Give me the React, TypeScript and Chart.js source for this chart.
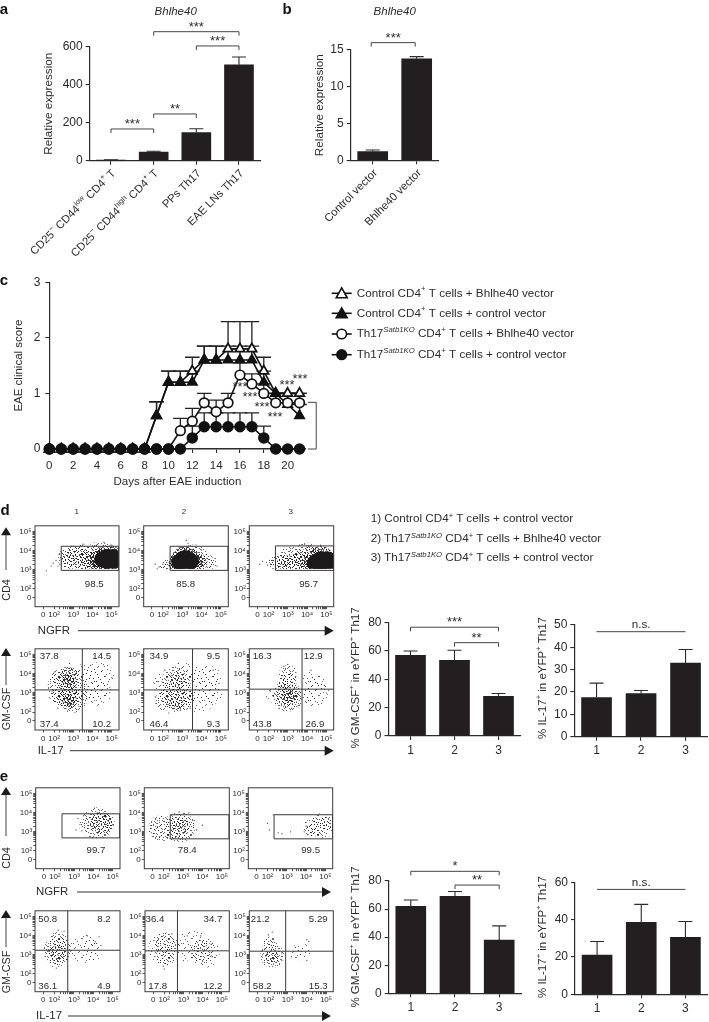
import React, { useEffect, useRef } from 'react';
import { Chart, registerables } from 'chart.js';

Chart.register(...registerables);

const FONT = '"Liberation Sans", Arial, sans-serif';
const INK = '#2d2b2b';
const BAR = '#231f20';

// ---------- bar panels ----------
const aCategories = ['CD25^−^ CD44^low^ CD4^+^ T', 'CD25^−^ CD44^high^ CD4^+^ T', 'PPs Th17', 'EAE LNs Th17'];
const aValues = [3, 45, 148, 505];
const aErrors = [5, 50, 168, 546];
const bCategories = ['Control vector', 'Bhlhe40 vector'];
const bValues = [1.2, 13.8];
const bErrors = [1.4, 14.1];
const groupLabels = ['1', '2', '3'];
const dGmValues = [57, 53.5, 28];
const dGmErrors = [60, 60.5, 30];
const dIlValues = [17.5, 19.3, 33];
const dIlErrors = [24, 20.7, 39];
const eGmValues = [62, 69, 38];
const eGmErrors = [66.5, 72.5, 48];
const eIlValues = [21, 38.5, 30.5];
const eIlErrors = [28.3, 48.2, 39];

// ---------- clinical score ----------
const days = [0, 1, 2, 3, 4, 5, 6, 7, 8, 9, 10, 11, 12, 13, 14, 15, 16, 17, 18, 19, 20, 21];
const openTriangle = [0, 0, 0, 0, 0, 0, 0, 0, 0, 0.6, 1.2, 1.2, 1.4, 1.6, 1.6, 1.8, 1.8, 1.8, 1.4, 1, 1, 1];
const closedTriangle = [0, 0, 0, 0, 0, 0, 0, 0, 0, 0.6, 1.2, 1.2, 1.2, 1.6, 1.6, 1.6, 1.6, 1.6, 1.2, 1, 0.8, 0.6];
const openCircle = [0, 0, 0, 0, 0, 0, 0, 0, 0, 0, 0, 0.33, 0.5, 0.83, 0.67, 0.83, 1.33, 1.17, 1, 0.83, 0.83, 0.83];
const closedCircle = [0, 0, 0, 0, 0, 0, 0, 0, 0, 0, 0, 0, 0.2, 0.4, 0.4, 0.4, 0.4, 0.4, 0.2, 0, 0, 0];
const N = null;
const openTriangleTop = [N, N, N, N, N, N, N, N, N, 0.85, 1.4, 1.4, 1.65, 1.85, 1.85, 2.29, 2.29, 2.29, 1.65, 1, 1, 1];
const closedTriangleTop = [N, N, N, N, N, N, N, N, N, 0.85, 1.4, 1.4, 1.4, 1.85, 1.85, 1.85, 1.85, 1.85, 1.4, 1, 1, 0.8];
const openCircleTop = [N, N, N, N, N, N, N, N, N, N, N, 0.55, 0.73, 1, 0.88, 1, 1.55, 1.35, 1.17, 1, 1, 1];
const closedCircleTop = [N, N, N, N, N, N, N, N, N, N, N, N, 0.41, 0.65, 0.65, 0.65, 0.65, 0.65, 0.41, N, N, N];
const seriesNames = [
  'Control CD4^+^ T cells + Bhlhe40 vector',
  'Control CD4^+^ T cells + control vector',
  'Th17^/Satb1KO^ CD4^+^ T cells + Bhlhe40 vector',
  'Th17^/Satb1KO^ CD4^+^ T cells + control vector',
];

// ---------- flow plots: clusters are [x decade, y decade, radius, density level], strays are [x, y] ----------
const flowTickValues = [1.43, 2, 3, 4, 5];
const flowXLabels = ['0', '10²', '10³', '10⁴', '10⁵'];
const flowYTickValues = [1.53, 2, 3, 4, 5];
const minorSteps = [0.3, 0.48, 0.6, 0.7, 0.78, 0.85, 0.9, 0.95];

const d1Clusters = [[3, 3.6, 13, 1], [2.7, 3.6, 10, 1], [3.5, 3.6, 14, 1], [4.4, 3.6, 17, 1], [2.83, 3.76, 6, 2], [3.9, 3.5, 10, 2], [3.5, 3.55, 10, 2], [4.3, 3.5, 11, 3], [4.5, 3.55, 12, 3], [4.9, 3.6, 13, 3], [4.5, 3.55, 8, 4], [4.75, 3.57, 10, 4], [5.05, 3.57, 10, 4]];
const d1Strays = [[2.3, 3.3], [2.1, 3.5], [1.85, 3.2], [1.6, 2.95], [3.5, 4.35], [4.2, 4.3], [4.6, 4.45], [5, 4.3], [2.4, 3.55], [2.2, 3.2], [1.95, 3.35], [4.4, 4.2]];
const d2Clusters = [[4.15, 3.35, 10, 1], [2.3, 3.2, 8, 1], [3.6, 3.6, 14, 1], [2.05, 3.15, 4, 1], [4.5, 3.3, 6, 0], [3.9, 3.4, 8, 2], [2.6, 3.25, 6, 2], [3.1, 3.8, 7, 2], [3.15, 3.45, 15, 3], [2.7, 3.3, 8, 3], [3.65, 3.45, 9, 3], [2.85, 3.4, 8, 4], [3.15, 3.45, 11, 4], [3.45, 3.45, 8, 4]];
const d2Strays = [[1.6, 3.3], [1.8, 3.15], [2, 3.3], [3.3, 4.4], [3.2, 4.55], [4.7, 3.6], [4, 4.05], [1.7, 3.05], [4.8, 3.2], [3.7, 4.2]];
const d3Clusters = [[2.6, 3.3, 10, 1], [3.2, 3.6, 13, 1], [4, 3.8, 12, 1], [2.35, 3.4, 6, 1], [3.7, 3.35, 11, 2], [3.3, 3.3, 10, 2], [2.9, 3.3, 9, 2], [4.2, 3.6, 12, 2], [4.1, 3.3, 9, 3], [4.7, 3.5, 14, 3], [4.4, 3.35, 8, 4], [4.7, 3.45, 10, 4], [5.05, 3.45, 10, 4]];
const d3Strays = [[1.7, 3.45], [1.9, 3.4], [2.1, 3.3], [2.2, 3.5], [1.55, 3.3], [2.5, 3.7], [3.6, 4.3], [4.7, 4.3], [4.2, 4.25], [1.95, 3.25], [2.05, 3.5]];
const d4Clusters = [[4, 3.6, 14, 0], [4.4, 3.9, 14, 0], [4.2, 2.95, 12, 0], [3.7, 2.9, 8, 0], [4.6, 3, 8, 0], [3.6, 4.1, 9, 0], [2.7, 3.3, 20, 1], [2.3, 2.9, 10, 1], [2.3, 3.8, 8, 1], [3, 2.7, 14, 1], [2.75, 3.85, 10, 2], [2.75, 3.3, 9, 2], [2.75, 2.75, 11, 2], [2.75, 3.75, 6, 3], [2.8, 2.65, 6, 3]];
const d4Strays = [[1.75, 2.75], [1.9, 3.1], [2.2, 2.2], [2.7, 2.05], [3.3, 2.3], [3.9, 4.45], [2.8, 4.55], [4.9, 3.3], [5, 3.8], [2, 4.1]];
const d5Clusters = [[4, 3.5, 17, 0], [4.4, 3.8, 12, 0], [3.9, 2.8, 16, 0], [4.6, 2.9, 9, 0], [2, 3.6, 10, 0], [3.3, 4, 12, 0], [2.7, 3.6, 15, 1], [2.7, 2.9, 16, 1], [3, 2.7, 12, 1], [2.1, 2.6, 10, 1], [2.75, 3.75, 8, 2], [2.7, 2.7, 11, 2]];
const d5Strays = [[1.7, 3.6], [1.6, 2.8], [2.1, 4.2], [2.6, 2.05], [2.9, 2.1], [2.3, 1.95], [4.6, 4.2], [4.9, 3.5], [3.4, 2.2], [2.8, 4.55]];
const d6Clusters = [[4.2, 3.6, 10, 0], [4.5, 2.9, 13, 0], [4, 2.9, 9, 0], [4.6, 3.5, 9, 0], [2.4, 2.9, 9, 0], [2.9, 3.3, 9, 1], [3, 4, 9, 1], [3, 3.6, 9, 1], [3, 2.8, 15, 1], [3, 2.9, 11, 2], [3.05, 2.85, 6, 3]];
const d6Strays = [[1.9, 2.8], [2.1, 3.1], [3, 4.5], [2.8, 4.4], [3.2, 2.2], [2.9, 2.25], [3.6, 2.35], [5, 3], [4.9, 3.4], [4.2, 4.2]];
const e1Clusters = [[3.7, 3.4, 9, 0], [4.2, 3.45, 16, 1], [4.7, 3.5, 8, 1], [4.4, 3.45, 11, 2]];
const e1Strays = [[3.2, 3.7], [3.1, 3.1], [3.4, 3.05], [3.3, 3.4], [3.5, 3.85], [4.9, 3.7], [5, 3.4], [4.2, 4], [4.6, 3.95]];
const e2Clusters = [[2.4, 3.2, 12, 0], [3.3, 3.4, 8, 0], [1.55, 3.1, 6, 0], [2.85, 3.25, 15, 1], [1.9, 3.2, 13, 1], [2.85, 3.25, 9, 2]];
const e2Strays = [[3.7, 3.1], [3.5, 3.6], [3.3, 4], [2.8, 4.05], [1.8, 2.75], [2.2, 2.7], [2.6, 2.7], [4, 3.35]];
const e3Clusters = [[4.3, 3.2, 9, 0], [4.8, 3.3, 13, 0], [4.65, 3.25, 10, 1], [5, 3.45, 7, 1], [4.3, 3.1, 7, 1]];
const e3Strays = [[2, 3.45], [2.1, 3.1], [2.75, 2.9], [3.2, 3], [2.55, 2.95], [3.9, 3], [2.3, 3.9], [4, 3.5], [4, 3.3], [4.1, 2.85]];
const e4Clusters = [[3.5, 3.3, 15, 0], [3.9, 3.5, 8, 0], [2.2, 2.7, 9, 0], [4.1, 3, 6, 0], [2.15, 3.2, 14, 1], [2.2, 3.8, 9, 1], [2.15, 3.1, 9, 2]];
const e4Strays = [[1.7, 3.2], [1.8, 2.7], [2.5, 4.25], [2.2, 4.3], [4.3, 3.95], [4.1, 3.7], [3.7, 4], [2.1, 2.3], [4.4, 3.5]];
const e5Clusters = [[3.5, 3.5, 16, 0], [4.1, 3.1, 15, 0], [2.1, 2.7, 6, 0], [2, 3.3, 16, 0], [2.05, 3, 10, 1], [2.05, 3.6, 11, 1], [3.95, 3.2, 11, 1]];
const e5Strays = [[1.7, 3.8], [2.4, 4.1], [3.2, 4], [3.9, 4], [4.5, 3.6], [4.5, 2.9], [3, 2.7], [2, 2.25], [1.95, 2.4]];
const e6Clusters = [[3.5, 3.1, 8, 0], [3.9, 3.2, 7, 0], [2.2, 2.95, 12, 1], [2.1, 3.6, 7, 1], [2.2, 2.9, 7, 2]];
const e6Strays = [[1.7, 3], [1.8, 3.3], [2.7, 3.1], [2.7, 2.7], [2, 4.05], [2.2, 4.2], [3.2, 2.9], [4, 3.8], [4.1, 3.7], [4, 2.7], [3.4, 3.4]];

const dTopPercents = ['98.5', '85.8', '95.7'];
const dLowerPercents = [['37.8', '14.5', '37.4', '10.2'], ['34.9', '9.5', '46.4', '9.3'], ['16.3', '12.9', '43.8', '26.9']];
const eTopPercents = ['99.7', '78.4', '99.5'];
const eLowerPercents = [['50.8', '8.2', '36.1', '4.9'], ['36.4', '34.7', '17.8', '12.2'], ['21.2', '5.29', '58.2', '15.3']];

// ---------- stipple tiles used to fill dense clusters ----------
const stippleA = [[2, 3], [9, 1], [16, 4], [21, 2], [5, 8], [12, 7], [19, 9], [1, 12], [8, 13], [15, 12], [22, 14], [4, 17], [11, 16], [18, 17], [14, 0]];
const stippleB = [[6, 2], [12, 3], [18, 1], [0, 6], [8, 5], [14, 6], [21, 6], [3, 10], [10, 10], [16, 8], [22, 10], [6, 12], [12, 14], [18, 13], [0, 15], [8, 16], [14, 17], [20, 16], [3, 14], [10, 18], [16, 15], [1, 18], [22, 18], [5, 5], [17, 11], [11, 8]];
const tileShifts = [[0, 0], [11, 7], [5, 3], [16, 10], [3, 13], [19, 5], [8, 11], [14, 2]];

function makeFills() {
  const W = 23;
  const H = 19;
  const tile = (sets: number[][][], shiftCount: number) => {
    const c = document.createElement('canvas');
    c.width = W;
    c.height = H;
    const g = c.getContext('2d')!;
    g.fillStyle = 'rgba(35,32,32,0.68)';
    sets.forEach((s) =>
      tileShifts.slice(0, shiftCount).forEach(([dx, dy]) =>
        s.forEach(([x, y]) => g.fillRect((x + dx) % W, (y + dy) % H, 1, 1)),
      ),
    );
    return g.createPattern(c, 'repeat')!;
  };
  return [
    tile([stippleA], 2),
    tile([stippleA, stippleB], 2),
    tile([stippleA, stippleB], 4),
    tile([stippleA, stippleB], 8),
    '#1c1a1a',
  ];
}

// ---------- rich text ----------
function drawRich(ctx: CanvasRenderingContext2D, text: string, x: number, y: number, o: any = {}) {
  const size = o.size ?? 11.7;
  const parts = text.split('^').map((t, i) => {
    const sup = i % 2 === 1;
    const italic = o.italic || t.startsWith('/');
    return {
      t: t.replace(/^\//, ''),
      sup,
      font: `${italic ? 'italic ' : ''}${o.bold ? 'bold ' : ''}${sup ? size * 0.66 : size}px ${FONT}`,
    };
  });
  let total = 0;
  parts.forEach((p) => {
    ctx.font = p.font;
    total += ctx.measureText(p.t).width;
  });
  ctx.save();
  ctx.translate(x, y);
  ctx.rotate(o.angle ?? 0);
  ctx.fillStyle = o.color ?? INK;
  ctx.textBaseline = 'middle';
  ctx.textAlign = 'left';
  let cx = o.align === 'right' ? -total : o.align === 'left' ? 0 : -total / 2;
  parts.forEach((p) => {
    ctx.font = p.font;
    ctx.fillText(p.t, cx, p.sup ? -size * 0.36 : 0);
    cx += ctx.measureText(p.t).width;
  });
  ctx.restore();
}

// ---------- page-rect helper ----------
function frame(box: any, m: any) {
  const left = Math.floor(box.x0 - m.l);
  const top = Math.floor(box.y1 - m.t);
  const width = Math.ceil(box.x1 + m.r) - left;
  const height = Math.ceil(box.y0 + m.b) - top;
  return {
    left,
    top,
    width,
    height,
    ml: box.x0 - left,
    mr: width - (box.x1 - left),
    mt: box.y1 - top,
    mb: height - (box.y0 - top),
  };
}

function place(canvas: HTMLCanvasElement, f: any) {
  canvas.width = f.width;
  canvas.height = f.height;
  canvas.style.cssText = `position:absolute;left:${f.left}px;top:${f.top}px;width:${f.width}px;height:${f.height}px;`;
}

const axisStyle = (len = 4) => ({
  display: true,
  drawOnChartArea: false,
  drawTicks: true,
  tickLength: len,
  color: INK,
  lineWidth: 1.1,
});

// ---------- bar chart ----------
function barChart(canvas: HTMLCanvasElement, s: any) {
  const f = frame(s.box, s.margin);
  place(canvas, f);
  const padLeft = s.padLeft ?? 0;
  const overlay = {
    id: 'overlay',
    afterDatasetsDraw(chart: any) {
      const c = chart.ctx;
      const X = chart.scales.x;
      const Y = chart.scales.y;
      c.save();
      c.strokeStyle = INK;
      c.lineWidth = 1.1;
      s.errors.forEach((top: number, i: number) => {
        const px = X.getPixelForTick(i);
        const a = Y.getPixelForValue(s.values[i]);
        const b = Y.getPixelForValue(top);
        c.beginPath();
        c.moveTo(px, a);
        c.lineTo(px, b);
        c.moveTo(px - 7, b);
        c.lineTo(px + 7, b);
        c.stroke();
      });
      c.strokeStyle = '#444';
      c.lineWidth = 1;
      (s.brackets ?? []).forEach((br: any) => {
        const xa = X.getPixelForTick(br.from) + (br.dx ?? 0);
        const xb = X.getPixelForTick(br.to) + (br.dx ?? 0);
        const py = Y.getPixelForValue(br.v);
        c.beginPath();
        if (br.legs === false) {
          c.moveTo(xa, py);
          c.lineTo(xb, py);
        } else {
          c.moveTo(xa, py + 4);
          c.lineTo(xa, py);
          c.lineTo(xb, py);
          c.lineTo(xb, py + 4);
        }
        c.stroke();
        const stars = br.label.includes('*');
        drawRich(c, br.label, (xa + xb) / 2, py - (stars ? 4.5 : 7), { size: stars ? 13 : 11.7 });
      });
      (s.rotated ?? []).forEach((label: string, i: number) => {
        drawRich(c, label, X.getPixelForTick(i) + 3, Y.bottom + 11, { size: 11.2, align: 'right', angle: -Math.PI / 4 });
      });
      (s.texts ?? []).forEach((t: any) => {
        drawRich(c, t.text, t.x - f.left, t.y - f.top, t);
      });
      c.restore();
    },
  };
  return new Chart(canvas, {
    type: 'bar',
    data: {
      labels: s.labels,
      datasets: [{ data: s.values, backgroundColor: BAR, barThickness: s.barWidth ?? 30 }],
    },
    plugins: [overlay],
    options: {
      responsive: false,
      animation: false,
      events: [],
      layout: { autoPadding: false, padding: { top: f.mt, right: f.mr, left: padLeft, bottom: 0 } },
      plugins: { legend: { display: false }, tooltip: { enabled: false }, title: { display: false } },
      scales: {
        x: {
          type: 'category',
          offset: true,
          border: { color: INK, width: 1.2 },
          grid: { ...axisStyle(), offset: false },
          ticks: { display: !s.rotated, color: INK, font: { family: FONT, size: 12 }, padding: 3, maxRotation: 0 },
          afterFit: (a: any) => { a.height = f.mb; },
        },
        y: {
          type: 'linear',
          min: 0,
          max: s.yMax,
          border: { color: INK, width: 1.2 },
          grid: axisStyle(),
          ticks: { stepSize: s.yStep, color: INK, font: { family: FONT, size: 12 }, padding: 3 },
          title: s.yTitle
            ? { display: true, text: s.yTitle, color: INK, font: { family: FONT, size: 11.7 }, padding: 0 }
            : { display: false },
          afterFit: (a: any) => { a.width = f.ml - padLeft; },
        },
      } as any,
    } as any,
  });
}

// ---------- clinical score chart ----------
const markerStyles = [
  { pointStyle: 'triangle', pointRadius: 5.6, pointBackgroundColor: '#fff', order: 4 },
  { pointStyle: 'triangle', pointRadius: 5.4, pointBackgroundColor: '#111', order: 3 },
  { pointStyle: 'circle', pointRadius: 4.8, pointBackgroundColor: '#fff', order: 2 },
  { pointStyle: 'circle', pointRadius: 4.9, pointBackgroundColor: '#111', order: 1 },
];
const scoreStars = [[240, 385], [250, 395], [262, 405], [275, 415], [287, 383], [300, 377]];

function scoreChart(canvas: HTMLCanvasElement) {
  const f = frame({ x0: 49.3, x1: 305.5, y0: 449, y1: 282 }, { l: 37, r: 375, t: 12, b: 40 });
  place(canvas, f);
  const series = [openTriangle, closedTriangle, openCircle, closedCircle];
  const tops = [openTriangleTop, closedTriangleTop, openCircleTop, closedCircleTop];
  const overlay = {
    id: 'scoreOverlay',
    beforeDatasetsDraw(chart: any) {
      const c = chart.ctx;
      const X = chart.scales.x;
      const Y = chart.scales.y;
      c.save();
      c.strokeStyle = '#222';
      c.lineWidth = 1.3;
      series.forEach((vals, k) => {
        tops[k].forEach((top: any, i: number) => {
          if (top === null) return;
          const px = X.getPixelForValue(days[i]);
          const b = Y.getPixelForValue(top);
          c.beginPath();
          c.moveTo(px, Y.getPixelForValue(vals[i]));
          c.lineTo(px, b);
          c.moveTo(px - 7.3, b);
          c.lineTo(px + 7.3, b);
          c.stroke();
        });
      });
      c.restore();
    },
    afterDatasetsDraw(chart: any) {
      const c = chart.ctx;
      const Y = chart.scales.y;
      const X = chart.scales.x;
      c.save();
      scoreStars.forEach(([x, y]) => drawRich(c, '***', x - f.left, y - f.top + 2, { size: 13 }));
      // bracket linking the two groups at day 21
      const xa = X.getPixelForValue(21.7);
      const xb = X.getPixelForValue(22.4);
      c.strokeStyle = '#444';
      c.lineWidth = 1;
      c.beginPath();
      c.moveTo(xa, Y.getPixelForValue(0.84));
      c.lineTo(xb, Y.getPixelForValue(0.84));
      c.lineTo(xb, Y.getPixelForValue(0));
      c.lineTo(xa, Y.getPixelForValue(0));
      c.stroke();
      // legend
      const rows = [293.3, 313.3, 334, 354.7];
      seriesNames.forEach((name, i) => {
        const y = rows[i] - f.top;
        const x = 341.7 - f.left;
        c.strokeStyle = '#111';
        c.lineWidth = 1.6;
        c.beginPath();
        c.moveTo(x - 10, y);
        c.lineTo(x + 10, y);
        c.stroke();
        c.fillStyle = i % 2 === 0 ? '#fff' : '#111';
        c.beginPath();
        if (i < 2) {
          c.moveTo(x, y - 5.5);
          c.lineTo(x + 5.5, y + 4.5);
          c.lineTo(x - 5.5, y + 4.5);
          c.closePath();
        } else {
          c.arc(x, y, 4.8, 0, Math.PI * 2);
        }
        c.fill();
        c.stroke();
        drawRich(c, name, 356.7 - f.left, y, { size: 11.7, align: 'left' });
      });
      c.restore();
    },
  };
  return new Chart(canvas, {
    type: 'line',
    data: {
      labels: days,
      datasets: series.map((vals, k) => ({
        label: seriesNames[k].replace(/[\^/]/g, ''),
        data: days.map((d, i) => ({ x: d, y: vals[i] })),
        borderColor: '#111',
        borderWidth: 1.6,
        pointBorderColor: '#111',
        pointBorderWidth: 1.7,
        tension: 0,
        clip: false,
        ...markerStyles[k],
      })),
    },
    plugins: [overlay],
    options: {
      responsive: false,
      animation: false,
      events: [],
      layout: { autoPadding: false, padding: { top: f.mt, right: f.mr, left: 0, bottom: 0 } },
      plugins: { legend: { display: false }, tooltip: { enabled: false } },
      scales: {
        x: {
          type: 'linear',
          min: 0,
          max: 21.5,
          border: { color: INK, width: 1.6 },
          grid: axisStyle(),
          ticks: { stepSize: 2, includeBounds: false, color: INK, font: { family: FONT, size: 11.5 }, padding: 6, maxRotation: 0 },
          title: { display: true, text: 'Days after EAE induction', color: INK, font: { family: FONT, size: 11.5 }, padding: 0 },
          afterFit: (a: any) => { a.height = f.mb; },
        },
        y: {
          type: 'linear',
          min: 0,
          max: 3,
          border: { color: INK, width: 1.2 },
          grid: axisStyle(),
          ticks: { stepSize: 1, color: INK, font: { family: FONT, size: 12 }, padding: 5 },
          title: { display: true, text: 'EAE clinical score', color: INK, font: { family: FONT, size: 11.5 }, padding: 0 },
          afterFit: (a: any) => { a.width = f.ml; },
        },
      } as any,
    } as any,
  });
}

// ---------- flow plot ----------
const X_MIN = 1.005;
const X_MAX = 5.38;
const Y_MIN = 1.056;
const Y_MAX = 5.32;

function logTicks(major: number[]) {
  const minors: number[] = [];
  [2, 3, 4].forEach((d) => minorSteps.forEach((m) => minors.push(d + m)));
  return [...major, ...minors];
}

function flowChart(canvas: HTMLCanvasElement, s: any, fills: any[]) {
  const f = frame(s.box, { l: 22, r: 2, t: 2, b: 15 });
  place(canvas, f);
  const overlay = {
    id: 'flowOverlay',
    afterDatasetsDraw(chart: any) {
      const c = chart.ctx;
      const a = chart.chartArea;
      c.save();
      c.strokeStyle = '#3a3a3a';
      c.lineWidth = 1;
      c.strokeRect(a.left, a.top, a.right - a.left, a.bottom - a.top);
      s.labels.forEach((l: any) => drawRich(c, l.text, a.left + l.x, a.top + l.y, { size: 9.7 }));
      c.restore();
    },
  };
  const clip = s.clipBottom ? { left: 0, top: 0, right: 0, bottom: -s.clipBottom } : undefined;
  const clusterSets = [0, 1, 2, 3, 4].map((level) => ({
    type: 'bubble',
    data: s.clusters.filter((b: number[]) => b[3] === level).map((b: number[]) => ({ x: b[0], y: b[1], r: b[2] })),
    backgroundColor: fills[level],
    borderWidth: 0,
    order: 20 - level,
    ...(clip ? { clip } : {}),
  }));
  const lineSets = s.lines.map((pts: number[][]) => ({
    type: 'scatter',
    showLine: true,
    data: pts.map(([x, y]) => ({ x, y })),
    borderColor: '#3a3a3a',
    borderWidth: 1,
    pointRadius: 0,
    order: 1,
  }));
  return new Chart(canvas, {
    type: 'bubble',
    data: {
      datasets: [
        ...clusterSets,
        {
          type: 'scatter',
          data: s.strays.map(([x, y]: number[]) => ({ x, y })),
          pointRadius: 0.6,
          pointBackgroundColor: '#333',
          pointBorderWidth: 0,
          order: 10,
        },
        ...lineSets,
      ],
    } as any,
    plugins: [overlay],
    options: {
      responsive: false,
      animation: false,
      events: [],
      layout: { autoPadding: false, padding: { top: f.mt, right: f.mr, left: 0, bottom: 0 } },
      plugins: { legend: { display: false }, tooltip: { enabled: false } },
      scales: {
        x: {
          type: 'linear',
          min: X_MIN,
          max: X_MAX,
          afterBuildTicks: (a: any) => { a.ticks = logTicks(flowTickValues).map((value) => ({ value })); },
          border: { display: false },
          grid: { ...axisStyle(2.5), lineWidth: 0.8 },
          ticks: {
            autoSkip: false,
            maxRotation: 0,
            color: INK,
            font: { family: FONT, size: 8 },
            padding: 1,
            callback: (v: number) => {
              const i = flowTickValues.indexOf(v);
              return i >= 0 ? flowXLabels[i] : '';
            },
          },
          afterFit: (a: any) => { a.height = f.mb; },
        },
        y: {
          type: 'linear',
          min: Y_MIN,
          max: Y_MAX,
          afterBuildTicks: (a: any) => { a.ticks = logTicks(flowYTickValues).map((value) => ({ value })); },
          border: { display: false },
          grid: { ...axisStyle(2.5), lineWidth: 0.8 },
          ticks: {
            autoSkip: false,
            color: INK,
            font: { family: FONT, size: 8 },
            padding: 1,
            callback: (v: number) => {
              const i = flowYTickValues.indexOf(v);
              return i >= 0 ? flowXLabels[i] : '';
            },
          },
          afterFit: (a: any) => { a.width = f.ml; },
        },
      } as any,
    } as any,
  });
}

const gate = (x0: number, y0: number, y1: number) => [[[x0, y0], [x0, y1], [X_MAX, y1], [X_MAX, y0], [x0, y0]]];
const quad = (xv: number, yv: number) => [[[xv, Y_MIN], [xv, Y_MAX]], [[X_MIN, yv], [X_MAX, yv]]];
const quadLabels = (vals: string[], lx: number[], rx: number[], ty: number, by: number) => [
  { text: vals[0], x: lx[0], y: ty },
  { text: vals[1], x: rx[0], y: ty },
  { text: vals[2], x: lx[1], y: by },
  { text: vals[3], x: rx[1], y: by },
];

const flowSpecs = [
  { box: { x0: 35, x1: 119, y1: 522.7, y0: 606.7 }, clusters: d1Clusters, strays: d1Strays, lines: gate(2.37, 2.97, 4.24), clipBottom: 38, labels: [{ text: dTopPercents[0], x: 59.3, y: 58.3 }] },
  { box: { x0: 143.7, x1: 228.3, y1: 522.7, y0: 606.7 }, clusters: d2Clusters, strays: d2Strays, lines: gate(2.37, 2.97, 4.24), clipBottom: 38, labels: [{ text: dTopPercents[1], x: 42, y: 58.3 }] },
  { box: { x0: 249.3, x1: 333.7, y1: 522.7, y0: 606.7 }, clusters: d3Clusters, strays: d3Strays, lines: gate(2.36, 2.97, 4.26), clipBottom: 38, labels: [{ text: dTopPercents[2], x: 59.3, y: 58.3 }] },
  { box: { x0: 35, x1: 119, y1: 645.7, y0: 730 }, clusters: d4Clusters, strays: d4Strays, lines: quad(3.47, 3.16), labels: quadLabels(dLowerPercents[0], [14.3, 14.3], [66.7, 66.7], 7.7, 75.3) },
  { box: { x0: 143.7, x1: 228.3, y1: 645.7, y0: 730 }, clusters: d5Clusters, strays: d5Strays, lines: quad(3.53, 3.16), labels: quadLabels(dLowerPercents[1], [15.3, 15.3], [69.7, 69.7], 7.7, 75.3) },
  { box: { x0: 249.3, x1: 333.7, y1: 645.7, y0: 730 }, clusters: d6Clusters, strays: d6Strays, lines: quad(3.74, 3.2), labels: quadLabels(dLowerPercents[2], [13, 13], [64, 65.7], 7.7, 75.3) },
  { box: { x0: 35.7, x1: 120, y1: 784.3, y0: 868.7 }, clusters: e1Clusters, strays: e1Strays, lines: gate(2.37, 2.68, 3.95), labels: [{ text: eTopPercents[0], x: 60.3, y: 62.3 }] },
  { box: { x0: 144.3, x1: 229.3, y1: 784.3, y0: 868.7 }, clusters: e2Clusters, strays: e2Strays, lines: gate(2.34, 2.63, 3.9), labels: [{ text: eTopPercents[1], x: 43, y: 62.3 }] },
  { box: { x0: 248.3, x1: 332.7, y1: 784.3, y0: 868.7 }, clusters: e3Clusters, strays: e3Strays, lines: gate(2.34, 2.63, 3.9), labels: [{ text: eTopPercents[2], x: 62.3, y: 62.3 }] },
  { box: { x0: 35, x1: 120, y1: 907.3, y0: 991.7 }, clusters: e4Clusters, strays: e4Strays, lines: quad(2.69, 3.24), labels: quadLabels(eLowerPercents[0], [12.7, 12.7], [69, 69], 8.3, 76) },
  { box: { x0: 145, x1: 229.3, y1: 907.3, y0: 991.7 }, clusters: e5Clusters, strays: e5Strays, lines: quad(2.69, 3.21), labels: quadLabels(eLowerPercents[1], [10, 12.7], [68, 68], 8.3, 76) },
  { box: { x0: 249.3, x1: 333.3, y1: 907.3, y0: 991.7 }, clusters: e6Clusters, strays: e6Strays, lines: quad(2.9, 3.19), labels: quadLabels(eLowerPercents[2], [11, 13], [69, 69], 8.3, 76) },
];

const barSpecs = [
  {
    box: { x0: 89.7, x1: 260.3, y1: 46.7, y0: 160.7 },
    margin: { l: 89.7, r: 5, t: 46, b: 100 },
    padLeft: 42,
    labels: aCategories, rotated: aCategories, values: aValues, errors: aErrors, yMax: 600, yStep: 200, barWidth: 29,
    yTitle: 'Relative expression',
    brackets: [
      { from: 0, to: 1, v: 167, label: '***' },
      { from: 1, to: 2, v: 246, label: '**' },
      { from: 1, to: 3, v: 679, label: '***' },
      { from: 2, to: 3, v: 604, label: '***' },
    ],
    texts: [{ text: 'Bhlhe40', x: 175.7, y: 12, italic: true, size: 11.5 }],
  },
  {
    box: { x0: 350.7, x1: 438.7, y1: 50, y0: 160.3 },
    margin: { l: 37, r: 5, t: 46, b: 80 },
    labels: bCategories, rotated: bCategories, values: bValues, errors: bErrors, yMax: 15, yStep: 5,
    yTitle: 'Relative expression',
    brackets: [{ from: 0, to: 1, v: 16, label: '***', dx: -1.5 }],
    texts: [{ text: 'Bhlhe40', x: 394.7, y: 12, italic: true, size: 11.5 }],
  },
  {
    box: { x0: 388.5, x1: 520.5, y1: 622.7, y0: 736 },
    margin: { l: 38, r: 2, t: 20, b: 20 },
    labels: groupLabels, values: dGmValues, errors: dGmErrors, yMax: 80, yStep: 20,
    brackets: [
      { from: 0, to: 2, v: 76.8, label: '***' },
      { from: 1, to: 2, v: 65.9, label: '**' },
    ],
    texts: [{ text: '% GM-CSF^+^ in eYFP^+^ Th17', x: 356, y: 678, angle: -Math.PI / 2, size: 11.5 }],
  },
  {
    box: { x0: 574.3, x1: 707.8, y1: 625, y0: 736.7 },
    margin: { l: 38, r: 0, t: 20, b: 20 },
    labels: groupLabels, values: dIlValues, errors: dIlErrors, yMax: 50, yStep: 10,
    brackets: [{ from: 0, to: 2, v: 47, label: 'n.s.', legs: false }],
    texts: [{ text: '% IL-17^+^ in eYFP^+^ Th17', x: 543, y: 678, angle: -Math.PI / 2, size: 11.5 }],
  },
  {
    box: { x0: 388.7, x1: 521.3, y1: 881, y0: 993.3 },
    margin: { l: 38, r: 2, t: 25, b: 20 },
    labels: groupLabels, values: eGmValues, errors: eGmErrors, yMax: 80, yStep: 20,
    brackets: [
      { from: 0, to: 2, v: 86.9, label: '*' },
      { from: 1, to: 2, v: 77.1, label: '**' },
    ],
    texts: [{ text: '% GM-CSF^+^ in eYFP^+^ Th17', x: 356, y: 937, angle: -Math.PI / 2, size: 11.5 }],
  },
  {
    box: { x0: 575, x1: 707.5, y1: 882.3, y0: 994.3 },
    margin: { l: 38, r: 0, t: 20, b: 20 },
    labels: groupLabels, values: eIlValues, errors: eIlErrors, yMax: 60, yStep: 20,
    brackets: [{ from: 0, to: 2, v: 56.2, label: 'n.s.', legs: false }],
    texts: [{ text: '% IL-17^+^ in eYFP^+^ Th17', x: 543, y: 937, angle: -Math.PI / 2, size: 11.5 }],
  },
];

// ---------- page text ----------
const panelLetters = [['a', 4, 8], ['b', 287, 8], ['c', 4, 279], ['d', 5, 509], ['e', 4, 775]];
const columnLabels = [['1', 76.7], ['2', 184], ['3', 290.7]];
const flowAxisLabels = [
  ['CD4', 590, 630.7, 'NGFR', 37.7],
  ['GM-CSF', 709, 750.7, 'IL-17', 37.7],
  ['CD4', 858, 892, 'NGFR', 36],
  ['GM-CSF', 972, 1016, 'IL-17', 36],
];
const treatmentList = [
  ['1) Control CD4', '+', null, ' T cells + control vector', 518],
  ['2) Th17', 'Satb1KO', ' CD4', ' T cells + Bhlhe40 vector', 538],
  ['3) Th17', 'Satb1KO', ' CD4', ' T cells + control vector', 557],
];

function Text({ x, y, rotate = 0, anchor = 'center', size = 11.7, bold = false, color = INK, children }: any) {
  const tx = anchor === 'center' ? '-50%' : '0';
  return (
    <div
      style={{
        position: 'absolute',
        left: x,
        top: y,
        transform: `translate(${tx},-50%) rotate(${rotate}deg)`,
        transformOrigin: anchor === 'center' ? 'center' : 'left center',
        fontFamily: FONT,
        fontSize: size,
        fontWeight: bold ? 700 : 400,
        color,
        whiteSpace: 'nowrap',
        lineHeight: 1,
      }}
    >
      {children}
    </div>
  );
}

const supStyle: any = { fontSize: '66%', verticalAlign: 'baseline', position: 'relative', top: '-0.55em' };

export default function App() {
  const barRefs = useRef<HTMLCanvasElement[]>([]);
  const flowRefs = useRef<HTMLCanvasElement[]>([]);
  const scoreRef = useRef<HTMLCanvasElement>(null);

  useEffect(() => {
    const fills = makeFills();
    const charts: Chart[] = [];
    barSpecs.forEach((s, i) => charts.push(barChart(barRefs.current[i], s)));
    flowSpecs.forEach((s, i) => charts.push(flowChart(flowRefs.current[i], s, fills)));
    charts.push(scoreChart(scoreRef.current!));
    return () => charts.forEach((c) => c.destroy());
  }, []);

  const arrowLines = [
    { up: [6, 527.3, 570], right: [78, 333.7, 630.7] },
    { up: [6, 648, 685], right: [70, 333.7, 750.7] },
    { up: [6, 787, 836], right: [77, 331, 892] },
    { up: [6, 910, 947], right: [68, 331, 1016] },
  ];

  return (
    <div style={{ position: 'absolute', left: 0, top: 0, width: 709, height: 1022, overflow: 'hidden', background: '#fff' }}>
      {barSpecs.map((_, i) => (
        <canvas key={`b${i}`} ref={(el) => { if (el) barRefs.current[i] = el; }} />
      ))}
      {flowSpecs.map((_, i) => (
        <canvas key={`f${i}`} ref={(el) => { if (el) flowRefs.current[i] = el; }} />
      ))}
      <canvas ref={scoreRef} />
      <svg width={709} height={1022} style={{ position: 'absolute', left: 0, top: 0, pointerEvents: 'none' }}>
        {arrowLines.map((a, i) => (
          <g key={i} fill="#1c1a1a" stroke="none">
            <rect x={a.up[0] - 0.5} y={a.up[1] + 7} width={1} height={a.up[2] - a.up[1] - 7} fill="#444" />
            <polygon points={`${a.up[0]},${a.up[1]} ${a.up[0] + 5},${a.up[1] + 8} ${a.up[0] - 5},${a.up[1] + 8}`} />
            <rect x={a.right[0]} y={a.right[2] - 0.5} width={a.right[1] - a.right[0] - 8} height={1} fill="#333" />
            <polygon points={`${a.right[1]},${a.right[2]} ${a.right[1] - 9},${a.right[2] - 5} ${a.right[1] - 9},${a.right[2] + 5}`} />
          </g>
        ))}
      </svg>
      {panelLetters.map(([t, x, y]: any) => (
        <Text key={t} x={x} y={y} size={15} bold color="#111">{t}</Text>
      ))}
      {columnLabels.map(([t, x]: any) => (
        <Text key={t} x={x} y={512} size={8}>{t}</Text>
      ))}
      {flowAxisLabels.map(([yl, yy, ty, xl, xx]: any, i) => (
        <React.Fragment key={i}>
          <Text x={6} y={yy} rotate={-90} size={10.8}>{yl}</Text>
          <Text x={xx} y={ty} anchor="left" size={11.4}>{xl}</Text>
        </React.Fragment>
      ))}
      {treatmentList.map(([a, s, b, c, y]: any, i) => (
        <Text key={i} x={370.7} y={y} anchor="left" size={11.7}>
          {a}
          <span style={{ ...supStyle, fontStyle: i > 0 ? 'italic' : 'normal' }}>{s}</span>
          {b}
          {b ? <span style={supStyle}>+</span> : null}
          {c}
        </Text>
      ))}
    </div>
  );
}
